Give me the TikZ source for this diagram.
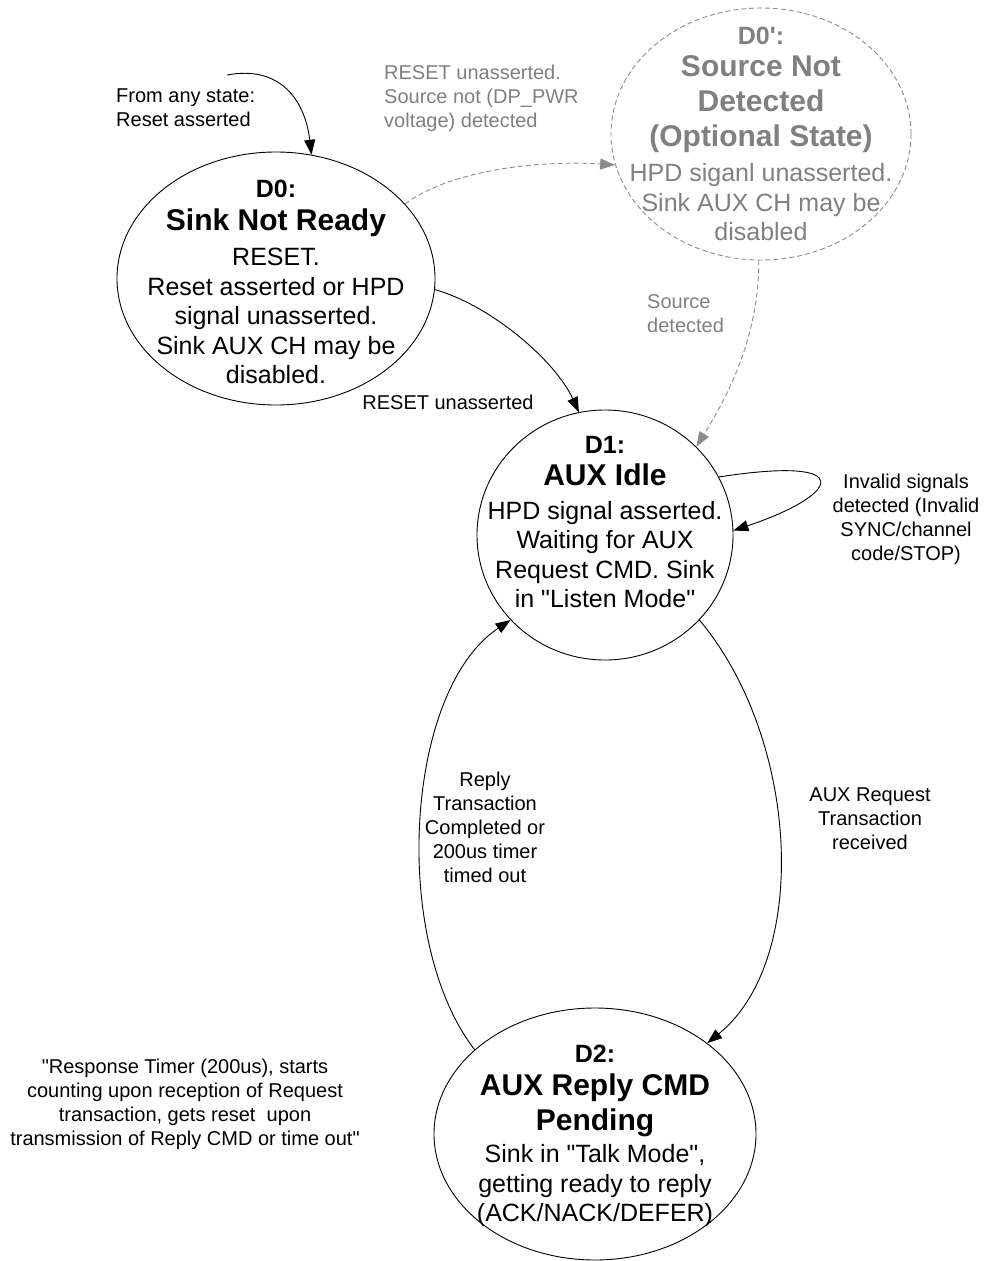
\documentclass[tikz,border=0pt]{standalone}
\usepackage{fontspec}
\setmainfont{Liberation Sans}
\usetikzlibrary{shapes.geometric,arrows.meta}
\definecolor{gtxt}{HTML}{808080}
\definecolor{gline}{HTML}{8C8C8C}
\newcommand\ttl[1]{{\fontsize{30}{35}\selectfont\bfseries #1}}
\newcommand\qq{\textquotedbl}
\begin{document}
\begin{tikzpicture}[x=1pt,y=-1pt,
  state/.style={ellipse,draw,line width=0.9pt,inner sep=0pt},
  optstate/.style={ellipse,draw=gline,line width=0.9pt,dash pattern=on 5pt off 3pt,inner sep=0pt},
  stxt/.style={align=center,font=\fontsize{25}{29.5}\selectfont,inner sep=0pt},
  lbl/.style={align=center,font=\fontsize{20}{24}\selectfont,inner sep=0pt},
  lbll/.style={align=left,font=\fontsize{20}{24}\selectfont,inner sep=0pt,anchor=west},
  tr/.style={line width=0.9pt,-{Triangle[length=15pt,width=11pt]}},
  gtr/.style={draw=gline,line width=0.9pt,dash pattern=on 5pt off 3pt,-{Triangle[length=15pt,width=11pt]}}
]
\path[use as bounding box] (0,0) rectangle (983,1261);

% states
\node[state,minimum width=318pt,minimum height=253pt] (d0) at (276,278.5) {};
\node[optstate,minimum width=300pt,minimum height=252pt] (d0p) at (761,134) {};
\node[state,minimum width=256pt,minimum height=250pt] (d1) at (605,535) {};
\node[state,minimum width=322pt,minimum height=252pt] (d2) at (595,1134) {};

% state texts
\node[stxt] (t0) at (276,282) {{\bfseries D0:}\\[3pt]\ttl{Sink Not Ready}\\[6pt]RESET.\\Reset asserted or HPD\\signal unasserted.\\Sink AUX CH may be\\disabled.};
\node[stxt,text=gtxt] (t0p) at (761,134) {{\bfseries D0\textquotesingle:}\\[3pt]\ttl{Source Not}\\[5.5pt]\ttl{Detected}\\[5.5pt]\ttl{(Optional State)}\\[5.5pt]HPD siganl unasserted.\\Sink AUX CH may be\\disabled};
\node[stxt] (t1) at (605,522) {{\bfseries D1:}\\[3pt]\ttl{AUX Idle}\\[4pt]HPD signal asserted.\\Waiting for AUX\\Request CMD. Sink\\in \qq Listen Mode\qq};
\node[stxt] (t2) at (595,1136) {{\bfseries D2:}\\[3pt]\ttl{AUX Reply CMD}\\[5.5pt]\ttl{Pending}\\[3pt]Sink in \qq Talk Mode\qq,\\getting ready to reply\\(ACK/NACK/DEFER)};

% labels
\node[lbll] (lfrom) at (116,108) {From any state:\\Reset asserted};
\node[lbll,text=gtxt] (lrst0p) at (384,98) {RESET unasserted.\\Source not (DP\_PWR\\voltage) detected};
\node[lbll,text=gtxt] (lsrc) at (647,314) {Source\\detected};
\node[lbl] (lrst) at (448,402) {RESET unasserted};
\node[lbl] (linv) at (906,519) {Invalid signals\\detected (Invalid\\SYNC/channel\\code/STOP)};
\node[lbl] (laux) at (870,819) {AUX Request\\Transaction\\received};
\node[lbl] (lreply) at (485,827) {Reply\\Transaction\\Completed or\\200us timer\\timed out};
\node[lbl] (lnote) at (185,1104) {\qq Response Timer (200us), starts\\counting upon reception of Request\\transaction, gets reset\ \ upon\\transmission of Reply CMD or time out\qq};

% connectors
\coordinate (fs) at (227,75);
\draw[tr] (fs) .. controls (280,65) and (305,100) .. (d0.74);
\draw[gtr] (d0.30) .. controls (450,170) and (540,160) .. (d0p.192);
\draw[gtr] (d0p.-91) .. controls (759,340) and (725,400) .. (d1.44);
\draw[tr] (d0.-4) .. controls (490,305) and (555,360) .. (d1.102);
\draw[tr] (d1.27) .. controls (860,455) and (840,495) .. (d1.2);
\draw[tr] (d1.-42) .. controls (800,740) and (810,960) .. (d2.39);
\draw[tr] (d2.145) .. controls (390,940) and (405,690) .. (d1.222);
\end{tikzpicture}
\end{document}
